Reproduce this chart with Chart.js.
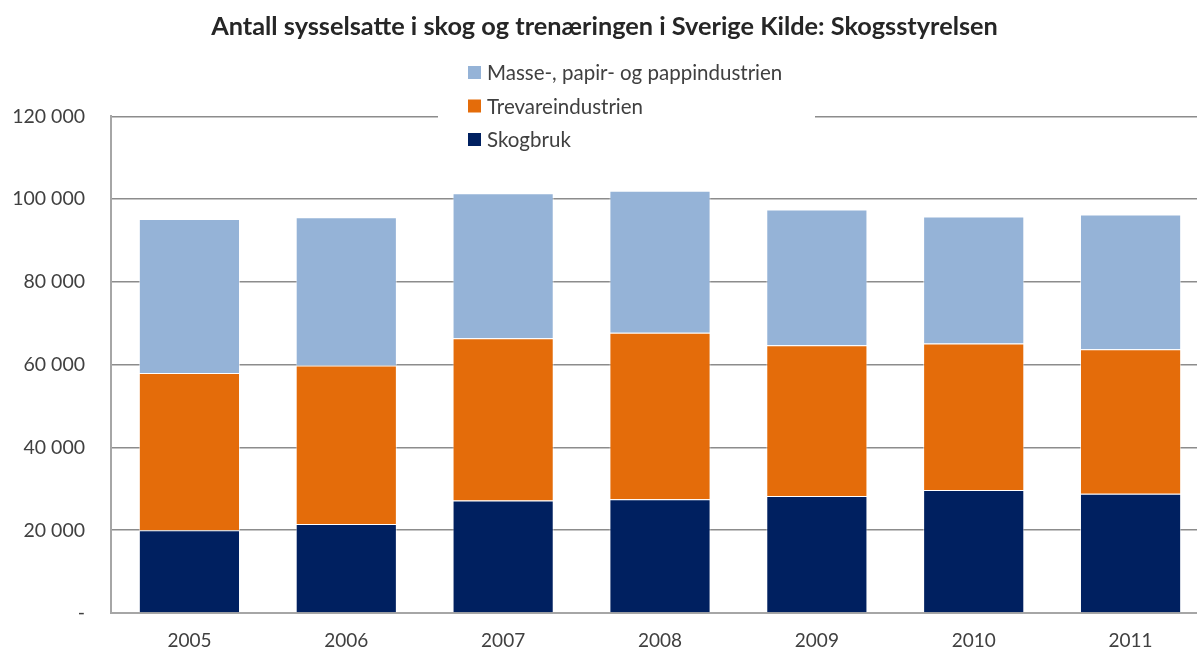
<!DOCTYPE html>
<html>
<head>
<meta charset="utf-8">
<script src="https://cdn.jsdelivr.net/npm/chart.js@4.4.1/dist/chart.umd.min.js"></script>
<style>
  html, body { margin: 0; padding: 0; background: #fff; overflow: hidden; }
  #wrap { position: relative; width: 1212px; height: 651px; }
</style>
</head>
<body>
<div id="wrap"><canvas id="chart"></canvas></div>
<script>
// Data
const years = ['2005', '2006', '2007', '2008', '2009', '2010', '2011'];
const skogbruk = [20000, 21500, 27200, 27500, 28300, 29700, 28800];
const trevare = [38000, 38300, 39200, 40200, 36400, 35400, 34900];
const masse = [37200, 35800, 35000, 34300, 32800, 30700, 32600];
const yTicks = [0, 20000, 40000, 60000, 80000, 100000, 120000];

const FONT = 'Lato, "Open Sans", sans-serif';
const TEXT = '#404040';

// legend drawn inside the plot, on a white box over the top gridline
const boxLegend = {
  id: 'boxLegend',
  afterDraw(chart){
    const ctx = chart.ctx;
    const x0 = 438, y0 = 56, w = 377, h = 100;
    ctx.save();
    ctx.fillStyle = '#fff';
    ctx.fillRect(x0, y0, w, h);
    ctx.font = '20.5px ' + FONT;
    ctx.textBaseline = 'middle';
    const sets = chart.data.datasets.slice().reverse();
    sets.forEach((ds, i) => {
      const cy = 72.5 + i * 33.5;
      ctx.fillStyle = ds.backgroundColor;
      ctx.fillRect(468, cy - 6.5, 13, 13);
      ctx.fillStyle = TEXT;
      ctx.fillText(ds.label, 487, cy + 1);
    });
    ctx.restore();
  }
};

function fmt(v){
  if (v === 0) return '-';
  return String(v).replace(/\B(?=(\d{3})+(?!\d))/g, ' ');
}

new Chart(document.getElementById('chart'), {
  type: 'bar',
  data: {
    labels: years,
    datasets: [
      {label: 'Skogbruk', data: skogbruk, backgroundColor: '#002060'},
      {label: 'Trevareindustrien', data: trevare, backgroundColor: '#E46C0A'},
      {label: 'Masse-, papir- og pappindustrien', data: masse, backgroundColor: '#95B3D7'}
    ].map(d => Object.assign(d, {
      borderColor: 'rgba(255,255,255,0.55)', borderWidth: 1,
      categoryPercentage: 1, barPercentage: 0.645
    }))
  },
  options: {
    responsive: true,
    maintainAspectRatio: false,
    animation: false,
    layout: {padding: {left: 0, right: 3, top: 0, bottom: 0}},
    plugins: {
      legend: {display: false},
      tooltip: {enabled: false},
      title: {
        display: true,
        text: 'Antall sysselsatte i skog og trenæringen i Sverige Kilde: Skogsstyrelsen',
        color: '#262626',
        font: {family: FONT, size: 25.3, weight: 'bold'},
        padding: {top: 12, bottom: 74}
      }
    },
    scales: {
      x: {
        stacked: true,
        grid: {display: false, drawTicks: false},
        border: {display: true, color: '#a6a6a6', width: 2},
        ticks: {color: TEXT, font: {family: FONT, size: 19}, padding: 16},
        afterFit: s => { s.height = 38; }
      },
      y: {
        stacked: true,
        min: 0, max: 120000,
        afterBuildTicks: s => { s.ticks = yTicks.map(v => ({value: v})); },
        grid: {color: '#8c8c8c', lineWidth: 1.5, drawTicks: false},
        border: {display: true, color: '#a6a6a6', width: 2},
        ticks: {color: TEXT, font: {family: FONT, size: 19.5}, padding: 26, callback: v => fmt(v)},
        afterFit: s => { s.width = 111; }
      }
    }
  },
  plugins: [boxLegend]
});
</script>
</body>
</html>
